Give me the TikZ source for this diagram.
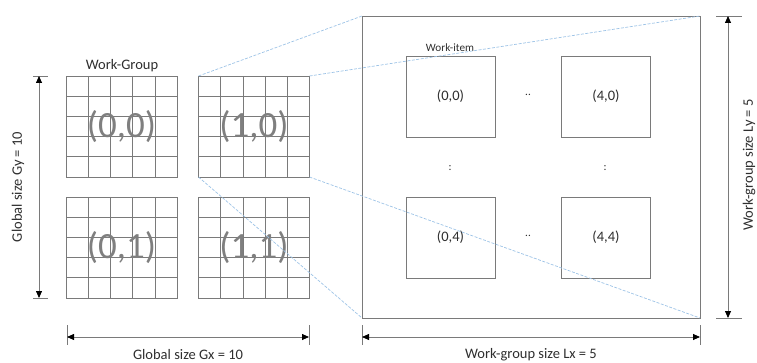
\documentclass[tikz,border=0pt]{standalone}
\usepackage{fontspec}
\setmainfont{Carlito}
\usetikzlibrary{arrows.meta,calc,backgrounds}
\definecolor{gline}{HTML}{7A7A7A}
\definecolor{txt}{HTML}{2E2E2E}
\definecolor{biglbl}{HTML}{7F7F7F}
\definecolor{zoomline}{HTML}{9DC3E6}
\tikzset{
  wgbox/.style={draw=gline,line width=0.75pt,minimum width=111pt,minimum height=101pt,inner sep=0pt,outer sep=0pt,
    text=biglbl,font=\fontsize{37}{37}\selectfont},
  itembox/.style={draw=gline,line width=0.75pt,minimum width=89pt,minimum height=81pt,inner sep=0pt,outer sep=0pt,
    text=txt,font=\fontsize{14.5}{14.5}\selectfont},
  bigbox/.style={draw=gline,line width=0.8pt,minimum width=338pt,minimum height=302pt,inner sep=0pt,outer sep=0pt},
  gridl/.style={draw=gline,line width=0.6pt},
  zoomc/.style={draw=zoomline,line width=0.7pt,dash pattern=on 3pt off 1.5pt},
  dimline/.style={draw=gline,line width=0.8pt,{Triangle[color=black,length=7pt,width=6pt]}-{Triangle[color=black,length=7pt,width=6pt]}},
  tick/.style={draw=gline,line width=0.8pt},
  lbl/.style={text=txt,font=\fontsize{14.5}{14.5}\selectfont,inner sep=0pt},
  small/.style={text=txt,font=\fontsize{11.2}{11.2}\selectfont,inner sep=0pt},
}
\begin{document}
\begin{tikzpicture}[x=1pt,y=-1pt]
\useasboundingbox (0,0) rectangle (757,363);
% work-groups
\node[wgbox] (g00) at (121.5,126.5) {(0,0)};
\node[wgbox] (g10) at (254,126.5) {(1,0)};
\node[wgbox] (g01) at (121.5,247.5) {(0,1)};
\node[wgbox] (g11) at (254,247.5) {(1,1)};
\begin{scope}[on background layer]
\foreach \g in {g00,g10,g01,g11}{
  \foreach \i in {1,...,4}{
    \draw[gridl] ($(\g.north west)!\i/5!(\g.north east)$) -- ($(\g.south west)!\i/5!(\g.south east)$);
    \draw[gridl] ($(\g.north west)!\i/5!(\g.south west)$) -- ($(\g.north east)!\i/5!(\g.south east)$);
  }
}
\end{scope}
\node[lbl] (wglbl) at (122,66) {Work-Group};
% big work-group
\node[bigbox] (wg) at (531,167) {};
\node[itembox] (i00) at (450.5,96.5) {(0,0)};
\node[itembox] (i40) at (606,96.5) {(4,0)};
\node[itembox] (i04) at (450.5,237.5) {(0,4)};
\node[itembox] (i44) at (606,237.5) {(4,4)};
\node[small] (wilbl) at (450,48) {Work-item};
\node[small] (d1) at (528,95) {..};
\node[small] (d2) at (528,236) {..};
\node[small] (d3) at (450,168) {:};
\node[small] (d4) at (605,168) {:};
% zoom connectors
\draw[zoomc] (g10.north west) -- (wg.north west);
\draw[zoomc] (g10.north east) -- (wg.north east);
\draw[zoomc] (g10.south west) -- (wg.south west);
\draw[zoomc] (g10.south east) -- (wg.south east);
% Gy dimension
\coordinate (gyt) at (39,76);
\coordinate (gyb) at (39,298);
\draw[tick] (33,76) -- (48,76);
\draw[tick] (33,298) -- (48,298);
\draw[dimline] (gyt) -- (gyb);
\node[lbl,rotate=90] (gylbl) at (18,187) {Global size Gy = 10};
% Gx dimension
\coordinate (gxl) at (67,337);
\coordinate (gxr) at (309,337);
\draw[tick] (67,325) -- (67,345);
\draw[tick] (309,325) -- (309,345);
\draw[dimline] (gxl) -- (gxr);
\node[lbl] (gxlbl) at (188,355) {Global size Gx = 10};
% Lx dimension
\coordinate (lxl) at (362,337);
\coordinate (lxr) at (700,337);
\draw[tick] (362,325) -- (362,345);
\draw[tick] (700,325) -- (700,345);
\draw[dimline] (lxl) -- (lxr);
\node[lbl] (lxlbl) at (531,355) {Work-group size Lx = 5};
% Ly dimension
\coordinate (lyt) at (728,16);
\coordinate (lyb) at (728,318);
\draw[tick] (716,16) -- (742,16);
\draw[tick] (716,318) -- (742,318);
\draw[dimline] (lyt) -- (lyb);
\node[lbl,rotate=90] (lylbl) at (749,165) {Work-group size Ly = 5};
\end{tikzpicture}
\end{document}
